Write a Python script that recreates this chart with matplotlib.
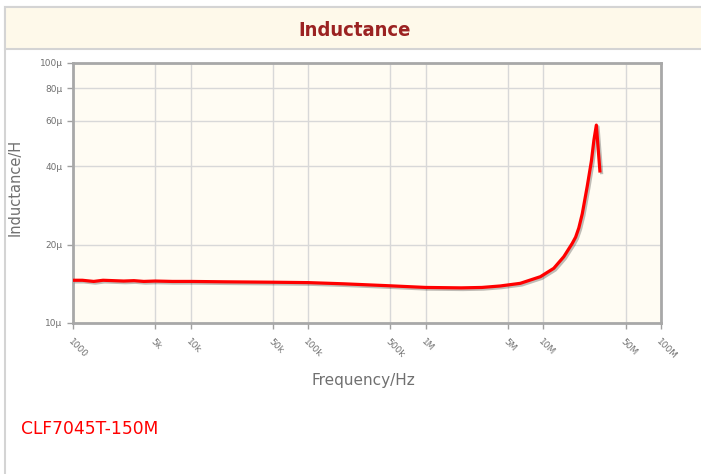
import matplotlib
matplotlib.use("Agg")
import matplotlib.pyplot as plt
import matplotlib.patheffects as pe
from matplotlib.patches import Rectangle
import numpy as np

# Data
freq_hz = [1000, 1200, 1500, 1800, 2200, 2700, 3300, 4000, 5000, 7000, 10000, 20000,
           50000, 100000, 200000, 500000, 1000000, 2000000, 3000000, 4290000, 6360000,
           9430000, 12250000, 14910000, 17600000, 18800000, 20000000, 21400000, 23600000,
           25600000, 26900000, 28200000, 30300000]
inductance_uH = [14.6, 14.6, 14.45, 14.6, 14.55, 14.5, 14.55, 14.45, 14.5, 14.45, 14.45, 14.4,
                 14.35, 14.3, 14.15, 13.9, 13.7, 13.65, 13.7, 13.88, 14.21,
                 15.07, 16.23, 17.99, 20.25, 21.4, 23.2, 26.3, 33.6,
                 42.0, 50.6, 57.7, 37.9]
x_ticks = [1e3, 5e3, 1e4, 5e4, 1e5, 5e5, 1e6, 5e6, 1e7, 5e7, 1e8]
x_tick_labels = ["1000", "5k", "10k", "50k", "100k", "500k", "1M", "5M", "10M", "50M", "100M"]
y_ticks = [10, 20, 40, 60, 80, 100]
y_tick_labels = ["10µ", "20µ", "40µ", "60µ", "80µ", "100µ"]

W, H = 701, 474
fig = plt.figure(figsize=(W / 100, H / 100), dpi=100)
fig.patch.set_facecolor("white")

# Outer panel and title band
fig.patches.append(Rectangle((5 / W, -0.01), 1.0, 1 - 7 / H + 0.01, transform=fig.transFigure,
                             facecolor="white", edgecolor="#d4d4d4", linewidth=1.5, zorder=-2))
fig.patches.append(Rectangle((5 / W, 1 - 49 / H), 1.0, 42 / H, transform=fig.transFigure,
                             facecolor="#fef9ea", edgecolor="#d4d4d4", linewidth=1.5, zorder=-1))
fig.text(355 / W, 1 - 30 / H, "Inductance", ha="center", va="center",
         color="#9b2222", fontsize=14.5, fontweight="bold", fontstretch="condensed")

ax = fig.add_axes([73 / W, 1 - 323 / H, 588 / W, 260 / H])
ax.set_facecolor("#fffcf3")
ax.set_xscale("log")
ax.set_yscale("log")
ax.set_xlim(1e3, 1e8)
ax.set_ylim(10, 100)

ax.plot(freq_hz, inductance_uH, color="#ff0000", linewidth=2.3, solid_joinstyle="round",
        solid_capstyle="butt",
        path_effects=[pe.SimpleLineShadow(offset=(1.2, -1.2), alpha=0.25, shadow_color="black"),
                      pe.Normal()], zorder=3)

ax.set_xticks(x_ticks)
ax.set_xticklabels(x_tick_labels, rotation=-45, ha="left", va="top", rotation_mode="anchor")
ax.set_yticks(y_ticks)
ax.set_yticklabels(y_tick_labels)
ax.minorticks_off()
ax.tick_params(axis="both", colors="#a0a0a0", labelcolor="#707070", labelsize=6.5,
               length=4, width=1)
ax.tick_params(axis="x", pad=6)
ax.grid(True, color="#d8d8d8", linewidth=1)
ax.set_axisbelow(True)
for s in ax.spines.values():
    s.set_color("#a8a8a8")
    s.set_linewidth(2)

ax.set_xlabel("Frequency/Hz", color="#707070", fontsize=11)
ax.xaxis.set_label_coords((363 - 73) / 588, -(380 - 323) / 260)
ax.xaxis.label.set_va("center")
ax.set_ylabel("Inductance/H", color="#707070", fontsize=10.5)
ax.yaxis.set_label_coords(-(73 - 15.5) / 588, (323 - 187) / 260)
ax.yaxis.label.set_va("center")

fig.text(21 / W, 1 - 429 / H, "CLF7045T-150M", color="#ff0000", fontsize=12.3, va="center")

fig.savefig("out.png", dpi=100)
